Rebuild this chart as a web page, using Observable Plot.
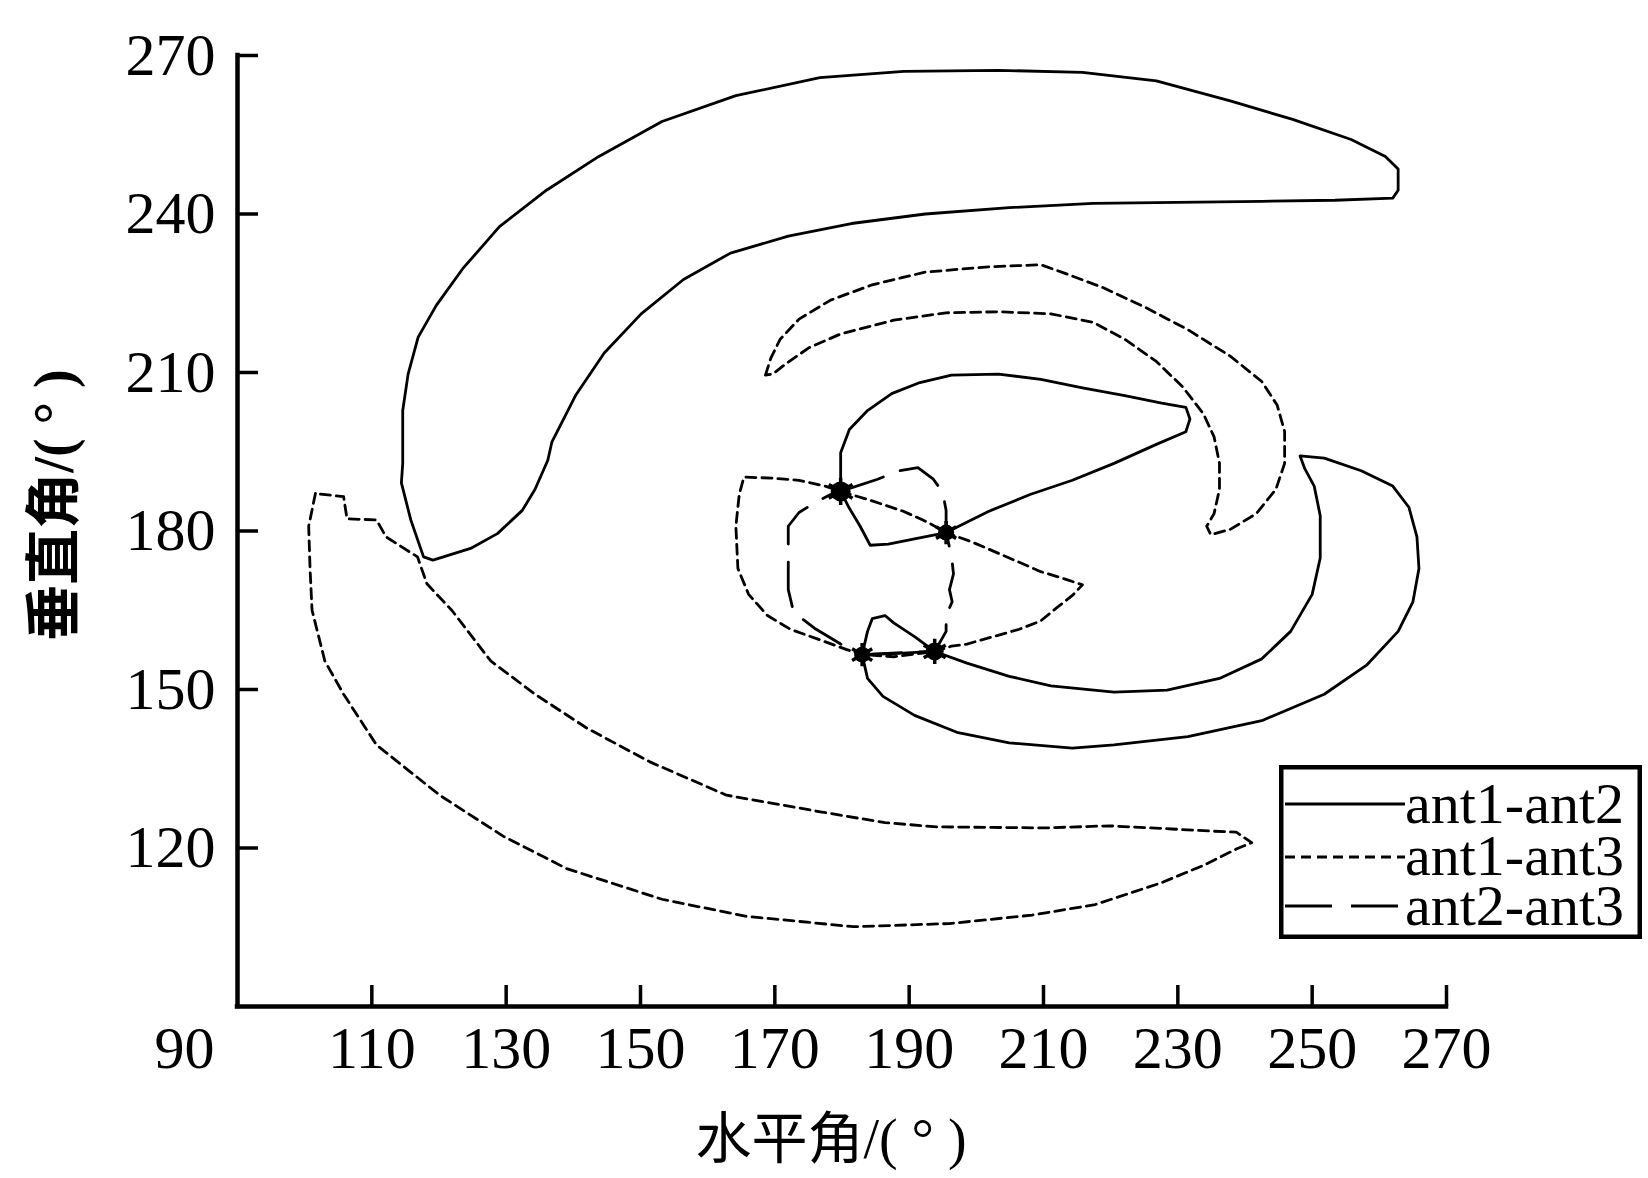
<!DOCTYPE html>
<html>
<head>
<meta charset="utf-8">
<script src="https://cdn.jsdelivr.net/npm/d3@7"></script>
<script src="https://cdn.jsdelivr.net/npm/@observablehq/plot@0.6"></script>
<style>
  body { margin: 0; background: #fff; }
  #wrap { position: relative; width: 1648px; height: 1178px; background: #fff; }
  #legend { position: absolute; left: 1279px; top: 765px; }
</style>
</head>
<body>
<div id="wrap"></div>
<script>
// ---------- tick labels ----------
const xTicks = [110, 130, 150, 170, 190, 210, 230, 250, 270];
const xFirstTick = [90];
const yTicks = [120, 150, 180, 210, 240, 270];
const xTitle = "水平角/( ° )";
const yTitle = "垂直角/( ° )";
const seriesNames = ["ant1-ant2", "ant1-ant3", "ant2-ant3"];

// ---------- ant1-ant2 (solid) ----------
const ant12Crescent = [[119.1,174.5],[117.7,175.1],[115.8,182.1],[114.4,189.1],[114.6,192.8],[114.6,202.8],[115.4,209.7],[116.9,216.7],[119.6,222.7],[123.5,229.6],[129.0,237.6],[136.0,244.5],[143.8,250.9],[153.2,257.5],[164.2,262.4],[176.7,265.8],[189.2,267.0],[203.3,267.2],[215.8,266.8],[226.8,265.2],[237.8,261.4],[247.1,257.9],[255.8,254.1],[260.9,250.9],[262.8,248.5],[262.8,244.5],[262.0,243.0],[253.4,242.6],[242.5,242.4],[229.9,242.2],[217.4,242.0],[204.9,241.2],[192.4,240.0],[181.4,238.2],[172.0,235.8],[163.4,232.6],[156.4,227.6],[150.1,221.1],[144.6,213.7],[140.4,205.8],[136.8,196.8],[136.2,193.4],[134.3,187.9],[132.4,183.9],[128.7,179.5],[124.7,176.7],[119.1,174.5]];
const ant12Loop = [[179.8,187.5],[179.8,194.8],[181.1,199.2],[183.8,202.8],[187.4,206.0],[191.6,208.1],[196.3,209.5],[203.3,209.7],[209.6,208.7],[215.8,207.1],[222.1,205.6],[227.6,204.2],[231.2,203.4],[231.8,201.2],[231.2,198.8],[226.8,196.4],[220.5,192.8],[214.3,189.6],[208.0,186.9],[201.8,183.7],[195.5,179.7],[190.8,178.5],[186.9,177.5],[184.2,177.3],[182.7,180.9],[181.1,184.3],[179.8,187.5]];
const ant12Hook = [[183.0,156.6],[187.7,156.8],[193.8,157.2],[198.6,155.0],[204.9,152.5],[211.1,150.7],[220.5,149.5],[228.4,149.9],[236.2,152.1],[242.5,155.8],[246.8,161.0],[250.0,168.0],[251.2,174.9],[251.2,182.9],[250.3,188.5],[248.9,191.8],[248.2,194.2],[251.8,193.8],[257.3,191.4],[262.0,188.5],[264.4,184.5],[265.6,178.9],[265.9,172.9],[265.0,166.6],[262.8,161.0],[258.1,154.6],[251.8,149.1],[242.5,144.1],[231.5,141.1],[220.5,139.5],[214.3,138.9],[204.9,139.9],[197.1,141.9],[190.8,145.1],[186.1,148.7],[183.8,152.1],[183.0,156.6]];
const ant12Bump = [[183.0,156.6],[183.8,161.0],[184.5,163.4],[186.4,164.0],[187.7,162.6],[190.8,160.0],[193.8,157.2]];

// ---------- ant1-ant3 (short dash) ----------
const ant13Upper = [[168.6,209.5],[169.4,212.7],[170.8,216.3],[173.6,220.1],[178.3,223.7],[184.5,226.6],[192.4,229.0],[201.8,230.0],[209.6,230.4],[212.7,229.0],[219.0,226.0],[225.2,222.3],[231.5,218.1],[237.8,213.1],[242.5,208.3],[244.8,203.8],[245.9,198.8],[245.9,192.8],[244.6,187.9],[241.7,183.3],[237.8,180.3],[234.9,179.3],[234.3,180.9],[235.4,183.3],[236.2,187.9],[236.2,192.8],[235.4,197.8],[233.8,202.2],[230.7,207.3],[226.8,212.1],[222.1,216.3],[217.4,219.5],[211.1,221.1],[203.3,221.5],[195.5,221.3],[187.7,219.9],[179.8,217.3],[175.1,214.7],[171.7,211.7],[169.7,209.7],[168.6,209.5]];
const ant13Lower = [[101.6,187.1],[100.6,180.9],[100.8,172.9],[101.1,165.0],[103.0,155.4],[105.8,149.1],[110.7,139.5],[120.1,130.0],[129.6,122.2],[139.0,116.1],[153.2,110.3],[165.6,107.1],[181.7,105.1],[196.0,105.7],[208.3,107.3],[217.7,109.3],[227.3,113.3],[233.8,116.7],[238.7,119.8],[241.0,121.0],[238.7,123.0],[234.9,123.2],[229.1,123.6],[219.8,124.2],[210.2,123.8],[194.1,124.0],[186.4,124.8],[177.0,126.8],[162.8,130.0],[151.4,136.3],[142.0,142.7],[134.3,149.1],[127.7,155.4],[121.9,165.0],[118.2,170.0],[116.8,175.1],[112.1,178.9],[110.7,182.1],[106.3,182.3],[105.8,186.5],[101.6,187.1]];
const ant13Center = [[179.8,187.5],[184.5,185.7],[189.2,183.7],[192.7,181.7],[195.5,179.7],[199.4,177.9],[204.9,174.9],[209.6,172.3],[213.0,171.0],[215.8,169.8],[214.3,167.8],[211.9,165.4],[209.6,163.0],[206.4,161.4],[202.5,160.0],[198.6,158.6],[196.3,158.2],[193.8,157.2],[187.7,156.2],[183.0,156.6],[180.6,157.6],[176.7,159.4],[172.3,161.4],[168.9,164.0],[166.1,168.0],[164.5,172.9],[164.2,180.9],[164.7,186.9],[165.4,190.2],[169.7,190.0],[173.6,189.6],[177.5,188.5],[179.8,187.5]];

// ---------- ant2-ant3 (long dash) ----------
const ant23Center = [[179.8,187.5],[185.3,189.8],[188.5,191.4],[191.3,192.0],[193.6,189.8],[195.0,187.3],[195.5,183.9],[195.5,179.7],[196.3,175.3],[196.6,171.9],[196.0,168.9],[196.4,166.6],[195.5,164.0],[195.5,161.0],[193.8,157.2],[189.2,157.0],[183.0,156.6],[179.8,158.6],[175.9,161.6],[172.8,164.6],[172.0,168.9],[172.0,180.9],[173.6,183.5],[175.9,185.3],[178.3,186.9],[179.8,187.5]];

// ---------- common solutions (markers) ----------
const nodeX = [179.8, 195.5, 183.0, 193.8];
const nodeY = [187.5, 179.7, 156.6, 157.2];
const nodeSize = [10, 8, 8, 9];

// ---------- build tables ----------
function toRows(pieces) {
  const rows = [];
  pieces.forEach((pts, k) => pts.forEach(([x, y]) => rows.push({piece: k, x, y})));
  return rows;
}
const rows12 = toRows([ant12Crescent, ant12Loop, ant12Hook, ant12Bump]);
const rows13 = toRows([ant13Upper, ant13Lower, ant13Center]);
const rows23 = toRows([ant23Center]);
const nodes = nodeX.map((x, i) => ({x, y: nodeY[i], r: nodeSize[i]}));

const serif = "'Liberation Serif', 'Times New Roman', serif";
const cjk = "'Liberation Serif', 'Noto Sans CJK SC', serif";

const chart = Plot.plot({
  width: 1648,
  height: 1178,
  marginLeft: 237,
  marginRight: 202,
  marginTop: 55,
  marginBottom: 172,
  x: {domain: [90, 270]},
  y: {domain: [90, 270]},
  r: {type: "identity"},
  style: {background: "white", color: "black", overflow: "visible"},
  marks: [
    // curves
    Plot.line(rows12, {x: "x", y: "y", z: "piece", stroke: "black", strokeWidth: 2.8, strokeLinejoin: "round"}),
    Plot.line(rows13, {x: "x", y: "y", z: "piece", stroke: "black", strokeWidth: 2.8, strokeDasharray: "10,6"}),
    Plot.line(rows23, {x: "x", y: "y", z: "piece", stroke: "black", strokeWidth: 2.8, strokeDasharray: "45,18"}),
    // markers
    Plot.dot(nodes, {x: "x", y: "y", r: "r", fill: "black"}),
    Plot.dot(nodes, {x: "x", y: "y", r: d => d.r + 3, symbol: "asterisk", stroke: "black", strokeWidth: 3.5}),
    // axis lines
    Plot.ruleX([90], {stroke: "black", strokeWidth: 4.5, strokeLinecap: "square"}),
    Plot.ruleY([90], {stroke: "black", strokeWidth: 4.5, strokeLinecap: "square"}),
    // inward tick marks
    Plot.axisY({ticks: yTicks, tickSize: -21, strokeWidth: 3.5, fill: "none", label: null}),
    Plot.axisX({ticks: xTicks, tickSize: -21, strokeWidth: 3.5, fill: "none", label: null}),
    // tick labels
    Plot.axisY({ticks: yTicks, tickSize: 0, tickPadding: 22, fontSize: 60, fontFamily: serif, label: null, tickFormat: d => String(d)}),
    Plot.axisX({ticks: xTicks, tickSize: 0, tickPadding: 19, fontSize: 60, fontFamily: serif, label: null, tickFormat: d => String(d)}),
    Plot.axisX({ticks: xFirstTick, tickSize: 0, tickPadding: 19, dx: -53, fontSize: 60, fontFamily: serif, label: null, tickFormat: d => String(d)}),
    // axis titles
    Plot.text([xTitle], {frameAnchor: "bottom", textAnchor: "middle", lineAnchor: "middle", dx: -11, dy: 134, fontSize: 56, fontFamily: cjk, fill: "black"}),
    Plot.text([yTitle], {frameAnchor: "left", textAnchor: "middle", lineAnchor: "middle", dx: -182, dy: -26, rotate: -90, fontSize: 56, fontWeight: "bold", fontFamily: cjk, fill: "black"})
  ]
});

const wrap = document.getElementById("wrap");
wrap.appendChild(chart);

// ---------- legend ----------
const dashes = [null, "10,6", "47,19"];
const lineY = [39, 92, 141];
const textY = [58, 110, 160];
const lg = d3.create("svg")
  .attr("id", "legend")
  .attr("width", 363)
  .attr("height", 174);
lg.append("rect")
  .attr("x", 2.25).attr("y", 2.25)
  .attr("width", 363 - 4.5).attr("height", 174 - 4.5)
  .attr("fill", "white").attr("stroke", "black").attr("stroke-width", 4.5);
seriesNames.forEach((name, i) => {
  lg.append("line")
    .attr("x1", 6).attr("x2", 126)
    .attr("y1", lineY[i]).attr("y2", lineY[i])
    .attr("stroke", "black").attr("stroke-width", 2.8)
    .attr("stroke-dasharray", dashes[i]);
});
const lgText = lg.append("text")
  .attr("font-family", serif).attr("font-size", 58)
  .attr("fill", "black");
seriesNames.forEach((name, i) => {
  lgText.append("tspan").attr("x", 126).attr("y", textY[i]).text(name);
});
wrap.appendChild(lg.node());
</script>
</body>
</html>
